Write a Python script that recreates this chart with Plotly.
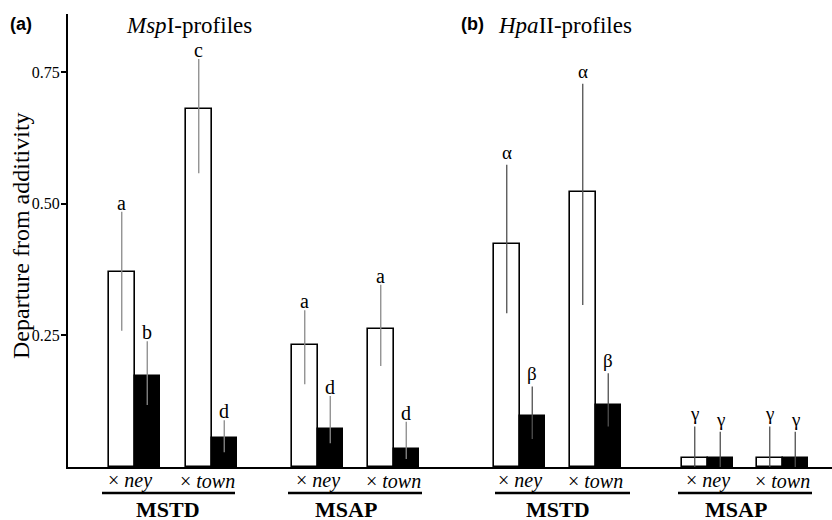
import plotly.graph_objects as go

# ---------------- data ----------------
panel_labels = ["(a)", "(b)"]
panel_titles = ["<i>Msp</i>I-profiles", "<i>Hpa</i>II-profiles"]
method_labels = ["MSTD", "MSAP", "MSTD", "MSAP"]
cross_labels = ["× <i>ney</i>", "× <i>town</i>"] * 4

open_mean = [0.370, 0.680, 0.231, 0.262, 0.424, 0.523, 0.018, 0.018]
open_upper = [0.485, 0.775, 0.298, 0.346, 0.574, 0.728, 0.077, 0.077]
open_lower = [0.259, 0.558, 0.157, 0.192, 0.292, 0.308, 0.000, 0.000]
open_letters = ["a", "c", "a", "a", "α", "α", "γ", "γ"]

filled_mean = [0.173, 0.055, 0.073, 0.035, 0.097, 0.117, 0.018, 0.018]
filled_upper = [0.239, 0.089, 0.135, 0.086, 0.153, 0.178, 0.067, 0.067]
filled_lower = [0.118, 0.028, 0.045, 0.015, 0.053, 0.077, 0.000, 0.000]
filled_letters = ["b", "d", "d", "d", "β", "β", "γ", "γ"]

y_ticks = [0.25, 0.50, 0.75]
y_ticktext = ["0.25", "0.50", "0.75"]

# ---------------- layout constants ----------------
W, H = 832, 520
PL, PT, PB = 68, 14, 467          # plot area pixel edges
XR = W - PL                        # x range in px units
YMAX = 0.8606
pair_left = [41, 118, 224, 300, 426, 502, 614, 689]   # px from left axis
BW = 25.5
cross_shift = [-4.5, -4.5, 0, 0, 0, 0, 0, 0]
underline_px = [(102, 235), (288, 422), (495, 630), (678, 812)]
method_center_px = [168, 346, 558, 736]
SERIF = "Liberation Serif, Times New Roman, serif"
SANS = "Liberation Sans, Arial, sans-serif"
ERR_COL = ["#8a8a8a", "#505050"]

open_x = [p + BW / 2 for p in pair_left]
filled_x = [p + 1.5 * BW for p in pair_left]

fig = go.Figure()

for panel in range(2):
    idx = list(range(panel * 4, panel * 4 + 4))
    fig.add_trace(go.Bar(
        x=[open_x[i] for i in idx], y=[open_mean[i] for i in idx], width=BW,
        marker=dict(color="white", line=dict(color="black", width=1.6)),
        error_y=dict(type="data", symmetric=False,
                     array=[open_upper[i] - open_mean[i] for i in idx],
                     arrayminus=[open_mean[i] - open_lower[i] for i in idx],
                     width=0, thickness=1.3, color=ERR_COL[panel]),
        showlegend=False, hoverinfo="skip"))
    fig.add_trace(go.Bar(
        x=[filled_x[i] for i in idx], y=[filled_mean[i] for i in idx], width=BW,
        marker=dict(color="black", line=dict(color="black", width=1.6)),
        error_y=dict(type="data", symmetric=False,
                     array=[filled_upper[i] - filled_mean[i] for i in idx],
                     arrayminus=[filled_mean[i] - filled_lower[i] for i in idx],
                     width=0, thickness=1.3, color=ERR_COL[panel]),
        showlegend=False, hoverinfo="skip"))

annotations = []
# significance letters
GREEK = set("αβγ")
for xs, ups, lets in [(open_x, open_upper, open_letters),
                      (filled_x, filled_upper, filled_letters)]:
    for x, u, t in zip(xs, ups, lets):
        greek = t in GREEK
        annotations.append(dict(x=x, y=u, xref="x", yref="y", text=t,
                                showarrow=False, yanchor="bottom",
                                yshift=0 if greek else -4,
                                font=dict(family=SERIF, size=19 if greek else 20,
                                          color="black")))


def py(pix):
    return (PB - pix) / (PB - PT)


def px(pix):
    return (pix - PL) / XR


# cross labels under each pair
for i, t in enumerate(cross_labels):
    annotations.append(dict(x=pair_left[i] + BW + cross_shift[i], y=py(481),
                            xref="x", yref="paper", xanchor="center",
                            text=t, showarrow=False, yanchor="middle",
                            font=dict(family=SERIF, size=20, color="black")))

# method labels and underlines
shapes = []
for g in range(4):
    x0, x1 = underline_px[g]
    shapes.append(dict(type="line", xref="paper", yref="paper", x0=px(x0), x1=px(x1),
                       y0=py(493), y1=py(493), line=dict(color="black", width=2.5)))
    annotations.append(dict(x=px(method_center_px[g]), y=py(509), xref="paper", yref="paper",
                            text="<b>%s</b>" % method_labels[g], showarrow=False,
                            xanchor="center", yanchor="middle", height=20, valign="middle",
                            font=dict(family=SERIF, size=22, color="black")))

# panel labels and titles
annotations.append(dict(x=px(8), y=py(24), xref="paper", yref="paper", text="<b>(a)</b>",
                        showarrow=False, xanchor="left", yanchor="middle",
                        font=dict(family=SANS, size=18, color="black")))
annotations.append(dict(x=px(124), y=py(25), xref="paper", yref="paper", text=panel_titles[0],
                        showarrow=False, xanchor="left", yanchor="middle",
                        font=dict(family=SERIF, size=23, color="black")))
annotations.append(dict(x=px(459), y=py(24), xref="paper", yref="paper", text="<b>(b)</b>",
                        showarrow=False, xanchor="left", yanchor="middle",
                        font=dict(family=SANS, size=18, color="black")))
annotations.append(dict(x=px(496), y=py(25), xref="paper", yref="paper", text=panel_titles[1],
                        showarrow=False, xanchor="left", yanchor="middle",
                        font=dict(family=SERIF, size=23, color="black")))
# y-axis title
annotations.append(dict(x=px(21), y=py(236), xref="paper", yref="paper",
                        text="Departure from additivity", textangle=-90,
                        showarrow=False, xanchor="center", yanchor="middle",
                        font=dict(family=SERIF, size=24, color="black")))

fig.update_layout(
    width=W, height=H,
    margin=dict(l=PL, r=0, t=PT, b=H - PB, pad=0),
    paper_bgcolor="white", plot_bgcolor="white",
    barmode="overlay", bargap=0,
    xaxis=dict(range=[0, XR], showline=True, linecolor="black", linewidth=2,
               showticklabels=False, ticks="", showgrid=False, zeroline=False,
               fixedrange=True),
    yaxis=dict(range=[0, YMAX], showline=True, linecolor="black", linewidth=2,
               tickvals=y_ticks, ticktext=y_ticktext, ticks="outside", ticklen=5,
               tickwidth=1.5, tickcolor="black", showgrid=False, zeroline=False,
               tickfont=dict(family=SERIF, size=16, color="black"),
               ticklabelstandoff=-2,
               fixedrange=True),
    annotations=annotations, shapes=shapes,
)

fig.write_html("out.html", config={"displayModeBar": False},
               post_script="document.body.style.margin='0px';")
